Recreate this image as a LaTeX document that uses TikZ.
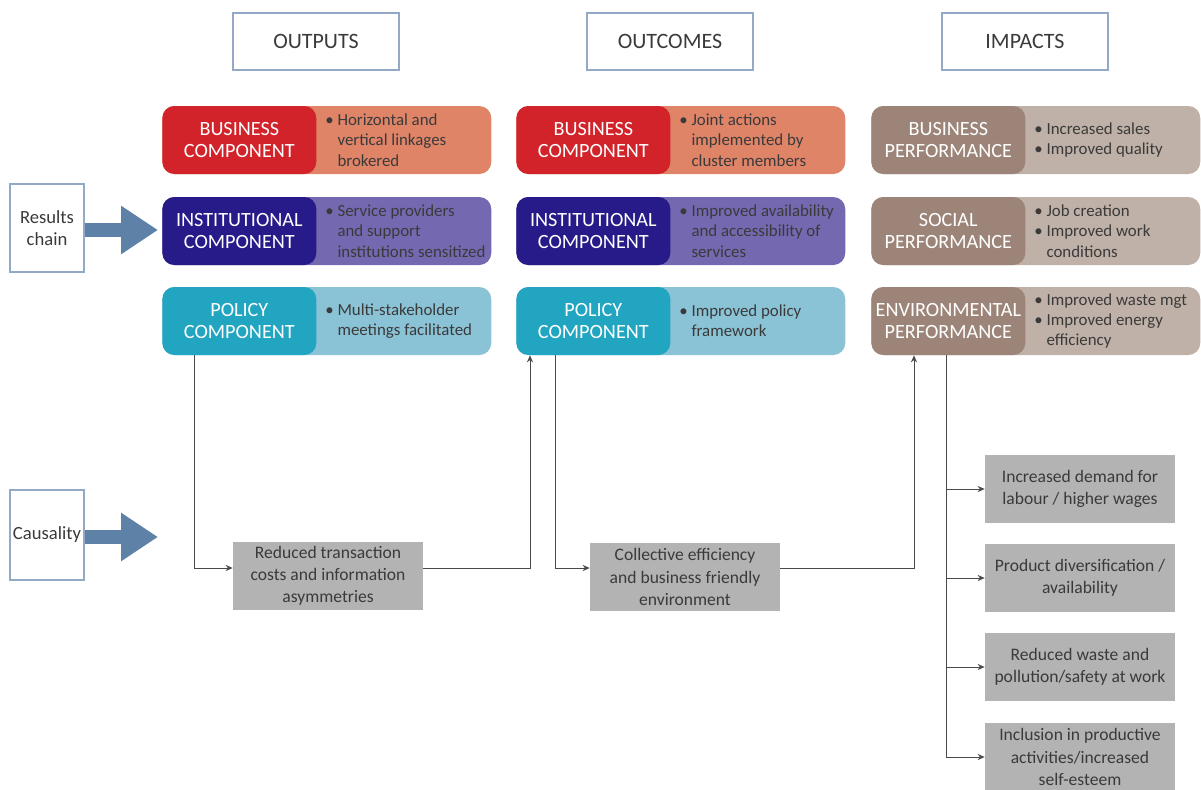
\documentclass[tikz,border=0pt]{standalone}
\usepackage{fontspec}
\setmainfont{Carlito}
\usetikzlibrary{arrows.meta}
\usepackage{xcolor}
\definecolor{busdark}{HTML}{D2232A}
\definecolor{buslight}{HTML}{E08468}
\definecolor{insdark}{HTML}{271A89}
\definecolor{inslight}{HTML}{7468B0}
\definecolor{poldark}{HTML}{22A5C1}
\definecolor{pollight}{HTML}{8BC3D6}
\definecolor{impdark}{HTML}{9C8578}
\definecolor{implight}{HTML}{BFB1A7}
\definecolor{headblue}{HTML}{93A9C6}
\definecolor{arrowblue}{HTML}{5E82A7}
\definecolor{boxgray}{HTML}{B3B3B4}
\definecolor{txt}{HTML}{3A3A3A}
\definecolor{linegray}{HTML}{4A4A4A}
\newcommand{\bul}{\textbullet~}
\newcommand{\bgap}{\hphantom{\textbullet~}}

\begin{document}
\begin{tikzpicture}[x=0.02cm, y=-0.02cm,
    head/.style={draw=headblue, line width=0.6pt, minimum width=3.32cm, minimum height=1.14cm, text=txt, font=\fontsize{12.5}{14}\selectfont},
    side/.style={draw=headblue, line width=0.6pt, minimum width=1.48cm, inner sep=0pt, align=center, text=txt, font=\fontsize{10.6}{12.6}\selectfont},
    band/.style={rectangle, rounded corners=0.24cm, minimum width=6.58cm, minimum height=1.36cm, anchor=west},
    tag/.style={rectangle, rounded corners=0.24cm, minimum width=3.08cm, minimum height=1.36cm, inner sep=0pt, anchor=west, align=center, text=white, font=\fontsize{11.5}{12.5}\selectfont},
    bullets/.style={anchor=west, inner sep=0pt, align=left, text=txt, font=\fontsize{9.6}{11.6}\selectfont},
    effect/.style={fill=boxgray, minimum width=3.8cm, minimum height=1.36cm, inner sep=0pt, align=center, text=txt, font=\fontsize{10}{12.6}\selectfont},
    conn/.style={draw=linegray, line width=0.5pt, -{Stealth[length=4pt,width=3.5pt]}},
    bigarrow/.style={draw=arrowblue, line width=0.28cm, -{Triangle[length=0.74cm,width=0.92cm]}}]
\useasboundingbox (0,0) rectangle (1201,789);

% column heads
\node[head] (outputs) at (316,41.5) {OUTPUTS};
\node[head] (outcomes) at (670,41.5) {OUTCOMES};
\node[head] (impacts) at (1025,41.5) {IMPACTS};

% side labels
\node[side, minimum height=1.76cm] (rc) at (47,228) {Results\\chain};
\node[side, minimum height=1.8cm] (cs) at (47,535) {Causality};
\coordinate (rcend) at (158,230);
\coordinate (csend) at (158,537);
\draw[bigarrow] (rc.east |- rcend) -- (rcend);
\draw[bigarrow] (cs.east |- csend) -- (csend);

% outputs
\node[band, fill=buslight] (ob) at (162,140) {};
\node[tag, fill=busdark] (obl) at (ob.west) {BUSINESS\\COMPONENT};
\node[bullets] (obt) at ([xshift=3.26cm]ob.west) {\bul Horizontal and\\\bgap vertical linkages\\\bgap brokered};
\node[band, fill=inslight] (oi) at (162,231) {};
\node[tag, fill=insdark] (oil) at (oi.west) {INSTITUTIONAL\\COMPONENT};
\node[bullets] (oit) at ([xshift=3.26cm]oi.west) {\bul Service providers\\\bgap and support\\\bgap institutions sensitized};
\node[band, fill=pollight] (op) at (162,321) {};
\node[tag, fill=poldark] (opl) at (op.west) {POLICY\\COMPONENT};
\node[bullets] (opt) at ([xshift=3.26cm]op.west) {\bul Multi-stakeholder\\\bgap meetings facilitated};

% outcomes
\node[band, fill=buslight] (cb) at (516,140) {};
\node[tag, fill=busdark] (cbl) at (cb.west) {BUSINESS\\COMPONENT};
\node[bullets] (cbt) at ([xshift=3.26cm]cb.west) {\bul Joint actions\\\bgap implemented by\\\bgap cluster members};
\node[band, fill=inslight] (ci) at (516,231) {};
\node[tag, fill=insdark] (cil) at (ci.west) {INSTITUTIONAL\\COMPONENT};
\node[bullets] (cit) at ([xshift=3.26cm]ci.west) {\bul Improved availability\\\bgap and accessibility of\\\bgap services};
\node[band, fill=pollight] (cp) at (516,321) {};
\node[tag, fill=poldark] (cpl) at (cp.west) {POLICY\\COMPONENT};
\node[bullets] (cpt) at ([xshift=3.26cm]cp.west) {\bul Improved policy\\\bgap framework};

% impacts
\node[band, fill=implight] (ib) at (871,140) {};
\node[tag, fill=impdark] (ibl) at (ib.west) {BUSINESS\\PERFORMANCE};
\node[bullets] (ibt) at ([xshift=3.26cm]ib.west) {\bul Increased sales\\\bul Improved quality};
\node[band, fill=implight] (is) at (871,231) {};
\node[tag, fill=impdark] (isl) at (is.west) {SOCIAL\\PERFORMANCE};
\node[bullets] (ist) at ([xshift=3.26cm]is.west) {\bul Job creation\\\bul Improved work\\\bgap conditions};
\node[band, fill=implight] (ie) at (871,321) {};
\node[tag, fill=impdark] (iel) at (ie.west) {ENVIRONMENTAL\\PERFORMANCE};
\node[bullets] (iet) at ([xshift=3.26cm]ie.west) {\bul Improved waste mgt\\\bul Improved energy\\\bgap efficiency};

% causal effects
\node[effect] (rt) at (328,576) {Reduced transaction\\costs and information\\asymmetries};
\node[effect] (ce) at (685,577) {Collective efficiency\\and business friendly\\environment};
\node[effect] (e1) at (1080,489) {Increased demand for\\labour / higher wages};
\node[effect] (e2) at (1080,578) {Product diversification /\\availability};
\node[effect] (e3) at (1080,667) {Reduced waste and\\pollution/safety at work};
\node[effect] (e4) at (1080,757) {Inclusion in productive\\activities/increased\\self-esteem};

% connectors
\draw[conn] ([xshift=0.64cm]op.south west) |- ([yshift=0.16cm]rt.west);
\draw[conn] ([yshift=0.16cm]rt.east) -| ([xshift=0.28cm]cp.south west);
\draw[conn] ([xshift=0.78cm]cp.south west) |- ([yshift=0.18cm]ce.west);
\draw[conn] ([yshift=0.18cm]ce.east) -| ([xshift=0.86cm]ie.south west);
\coordinate (trunk) at ([xshift=1.5cm]ie.south west);
\draw[conn] (trunk) |- (e4.west);
\draw[conn] (trunk |- e1.west) -- (e1.west);
\draw[conn] (trunk |- e2.west) -- (e2.west);
\draw[conn] (trunk |- e3.west) -- (e3.west);
\end{tikzpicture}
\end{document}
